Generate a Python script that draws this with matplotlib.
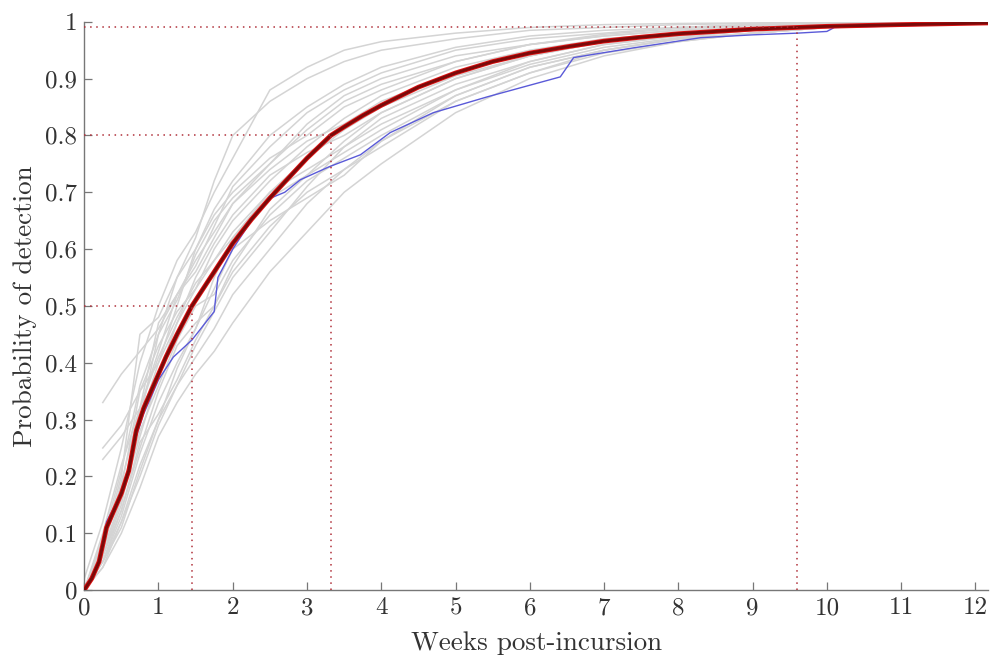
import numpy as np
import matplotlib
matplotlib.use("Agg")
import matplotlib.pyplot as plt

plt.rcParams['font.family'] = 'serif'
plt.rcParams['font.serif'] = ['cmr10', 'DejaVu Serif']
plt.rcParams['axes.formatter.use_mathtext'] = True

nan = np.nan

# time grid (weeks) shared by the simulated grey runs
t_grid = [0, 0.25, 0.5, 0.75, 1, 1.25, 1.5, 1.75, 2, 2.5, 3, 3.5, 4, 5, 6, 7, 8, 9, 10, 11, 12.2]

grey_runs = [
    [0.02, 0.12, 0.25, 0.40, 0.50, 0.58, 0.63, 0.70, 0.76, 0.88, 0.92, 0.95, 0.965, 0.98, 0.99, 0.995, 0.997, 0.998, 0.999, 1, 1],
    [0, 0.06, 0.15, 0.30, 0.45, 0.55, 0.62, 0.72, 0.80, 0.86, 0.90, 0.93, 0.95, 0.97, 0.985, 0.99, 0.995, 0.997, 0.998, 0.999, 1],
    [nan, 0.33, 0.38, 0.42, 0.46, 0.52, 0.58, 0.63, 0.68, 0.75, 0.82, 0.87, 0.90, 0.94, 0.96, 0.975, 0.985, 0.99, 0.995, 0.997, 0.999],
    [0, 0.05, 0.12, 0.22, 0.30, 0.36, 0.41, 0.46, 0.52, 0.60, 0.68, 0.74, 0.79, 0.86, 0.91, 0.95, 0.97, 0.98, 0.99, 0.995, 0.998],
    [0, 0.04, 0.10, 0.18, 0.27, 0.33, 0.38, 0.42, 0.47, 0.56, 0.63, 0.70, 0.75, 0.84, 0.90, 0.94, 0.965, 0.98, 0.99, 0.995, 0.998],
    [0, 0.08, 0.20, 0.45, 0.48, 0.55, 0.60, 0.66, 0.70, 0.76, 0.80, 0.85, 0.88, 0.93, 0.96, 0.975, 0.985, 0.99, 0.995, 0.997, 0.999],
    [0, 0.07, 0.16, 0.28, 0.36, 0.44, 0.50, 0.52, 0.58, 0.66, 0.72, 0.76, 0.80, 0.87, 0.92, 0.95, 0.97, 0.98, 0.99, 0.995, 0.998],
    [0, 0.10, 0.22, 0.32, 0.42, 0.52, 0.57, 0.64, 0.71, 0.78, 0.84, 0.88, 0.91, 0.95, 0.97, 0.98, 0.99, 0.995, 0.997, 0.998, 0.999],
    [0, 0.05, 0.13, 0.24, 0.33, 0.40, 0.46, 0.55, 0.62, 0.70, 0.74, 0.78, 0.83, 0.89, 0.93, 0.96, 0.975, 0.985, 0.992, 0.996, 0.999],
    [0, 0.09, 0.18, 0.35, 0.43, 0.49, 0.53, 0.60, 0.65, 0.72, 0.78, 0.83, 0.87, 0.92, 0.95, 0.97, 0.98, 0.99, 0.995, 0.997, 0.999],
    [nan, 0.25, 0.29, 0.35, 0.40, 0.47, 0.55, 0.61, 0.66, 0.73, 0.77, 0.80, 0.84, 0.90, 0.94, 0.965, 0.98, 0.99, 0.995, 0.997, 0.999],
    [0, 0.06, 0.14, 0.25, 0.35, 0.43, 0.47, 0.50, 0.56, 0.64, 0.70, 0.74, 0.78, 0.86, 0.91, 0.945, 0.965, 0.98, 0.99, 0.995, 0.998],
    [0, 0.08, 0.17, 0.30, 0.40, 0.50, 0.60, 0.67, 0.72, 0.80, 0.85, 0.89, 0.92, 0.955, 0.975, 0.985, 0.99, 0.995, 0.997, 0.998, 0.999],
    [0, 0.05, 0.14, 0.26, 0.31, 0.37, 0.44, 0.50, 0.57, 0.67, 0.73, 0.79, 0.84, 0.90, 0.94, 0.965, 0.98, 0.99, 0.994, 0.997, 0.999],
    [0, 0.07, 0.19, 0.32, 0.47, 0.52, 0.56, 0.62, 0.68, 0.74, 0.79, 0.82, 0.86, 0.91, 0.945, 0.97, 0.98, 0.988, 0.994, 0.997, 0.999],
    [0, 0.04, 0.12, 0.20, 0.29, 0.36, 0.43, 0.49, 0.55, 0.63, 0.71, 0.78, 0.82, 0.88, 0.925, 0.955, 0.972, 0.985, 0.992, 0.996, 0.999],
    [nan, 0.23, 0.27, 0.32, 0.41, 0.48, 0.54, 0.58, 0.63, 0.70, 0.76, 0.81, 0.85, 0.905, 0.94, 0.965, 0.98, 0.99, 0.995, 0.997, 0.999],
    [0, 0.06, 0.16, 0.27, 0.38, 0.47, 0.53, 0.58, 0.62, 0.69, 0.73, 0.77, 0.81, 0.88, 0.93, 0.96, 0.975, 0.985, 0.993, 0.996, 0.999],
    [0, 0.09, 0.21, 0.36, 0.45, 0.51, 0.59, 0.65, 0.69, 0.75, 0.81, 0.86, 0.89, 0.93, 0.96, 0.978, 0.988, 0.993, 0.996, 0.998, 0.999],
    [0, 0.05, 0.11, 0.21, 0.30, 0.39, 0.46, 0.53, 0.60, 0.65, 0.69, 0.73, 0.79, 0.87, 0.92, 0.95, 0.97, 0.98, 0.99, 0.995, 0.998],
]

# highlighted run (blue)
blue_t = [0, 0.2, 0.3, 0.5, 0.6, 0.7, 0.8, 1.0, 1.2, 1.45, 1.75, 1.8, 2.0, 2.25, 2.46, 2.7, 2.91, 3.3, 3.5, 3.72, 4.12, 4.7,
          5.43, 6.41, 6.59, 7.39, 8.3, 9.0, 9.6, 10.0, 10.1, 11.0, 12.2]
blue_y = [0, 0.05, 0.12, 0.17, 0.21, 0.27, 0.31, 0.37, 0.41, 0.44, 0.49, 0.55, 0.60, 0.65, 0.687, 0.70, 0.722, 0.745, 0.755, 0.766,
          0.805, 0.84, 0.868, 0.903, 0.937, 0.954, 0.972, 0.977, 0.98, 0.983, 0.99, 0.993, 0.997]

# mean detection curve (dark red)
mean_t = [0, 0.1, 0.2, 0.3, 0.5, 0.6, 0.7, 0.8, 0.9, 1.0, 1.1, 1.25, 1.45, 1.6, 1.75, 2.0, 2.25, 2.5, 2.75, 3.0, 3.32, 3.5,
          3.75, 4.0, 4.5, 5.0, 5.5, 6.0, 6.5, 7.0, 7.5, 8.0, 8.5, 9.0, 9.6, 10.0, 11.0, 12.2]
mean_y = [0, 0.02, 0.05, 0.11, 0.17, 0.21, 0.28, 0.32, 0.35, 0.38, 0.41, 0.45, 0.50, 0.53, 0.56, 0.61, 0.652, 0.69, 0.725,
          0.76, 0.80, 0.815, 0.835, 0.853, 0.885, 0.91, 0.93, 0.945, 0.956, 0.966, 0.973, 0.979, 0.983, 0.987, 0.99, 0.992,
          0.995, 0.998]

# reference levels and the week at which the mean reaches them
ref_levels = [0.5, 0.8, 0.99]
ref_weeks = [1.45, 3.32, 9.6]

xticks = list(range(0, 13))
yticks = [0, 0.1, 0.2, 0.3, 0.4, 0.5, 0.6, 0.7, 0.8, 0.9, 1]
ytick_labels = ['0', '0.1', '0.2', '0.3', '0.4', '0.5', '0.6', '0.7', '0.8', '0.9', '1']

fig = plt.figure(figsize=(9.91, 6.6), dpi=100)
ax = fig.add_axes([0.085, 0.106, 0.912, 0.861])

for run in grey_runs:
    ax.plot(t_grid, run, color='#d4d4d4', lw=1.1, zorder=1)

ax.plot(blue_t, blue_y, color='#5a5ad8', lw=1.0, zorder=2)

ax.plot(mean_t, mean_y, color='#e01010', lw=3.4, zorder=3, solid_joinstyle='round')
ax.plot(mean_t, mean_y, color='#7a0a0a', lw=2.1, zorder=4, solid_joinstyle='round')

for lvl, wk in zip(ref_levels, ref_weeks):
    ax.plot([0, wk], [lvl, lvl], color='#b0303a', lw=1.1, ls=(0, (1, 3)), zorder=5)
    ax.plot([wk, wk], [0, lvl], color='#b0303a', lw=1.1, ls=(0, (1, 3)), zorder=5)

ax.set_xlim(0, 12.17)
ax.set_ylim(0, 1)
ax.set_xticks(xticks)
ax.set_xticklabels([str(x) for x in xticks])
ax.set_yticks(yticks)
ax.set_yticklabels(ytick_labels)

for side in ['top', 'right']:
    ax.spines[side].set_visible(False)
for side in ['left', 'bottom']:
    ax.spines[side].set_color('#777777')
    ax.spines[side].set_linewidth(1.0)
ax.tick_params(direction='in', length=6, width=0.9, color='#777777', labelsize=18, labelcolor='#333333', pad=5)

ax.set_xlabel('Weeks post-incursion', fontsize=19.5, color='#333333', labelpad=9)
ax.set_ylabel('Probability of detection', fontsize=19.5, color='#333333', labelpad=6)

fig.savefig('out.png', dpi=100)
